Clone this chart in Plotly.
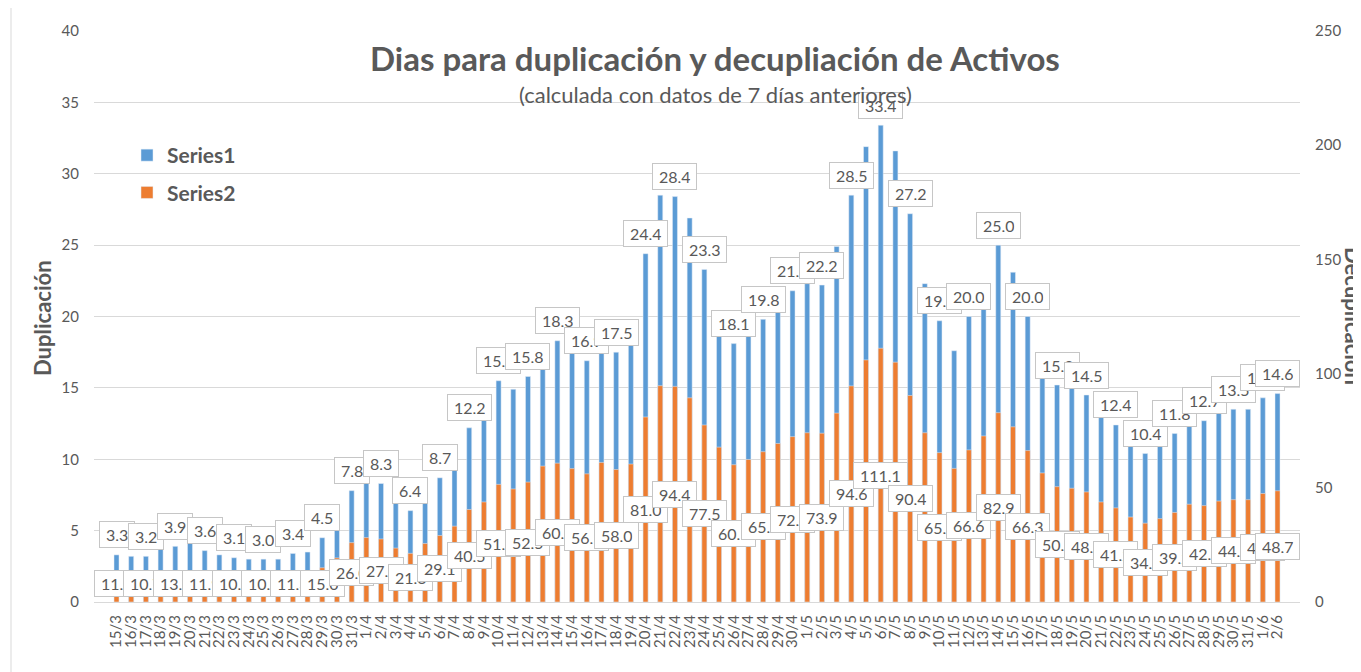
import plotly.graph_objects as go

dates = ["15/3","16/3","17/3","18/3","19/3","20/3","21/3","22/3","23/3","24/3",
         "25/3","26/3","27/3","28/3","29/3","30/3","31/3",
         "1/4","2/4","3/4","4/4","5/4","6/4","7/4","8/4","9/4","10/4",
         "11/4","12/4","13/4","14/4","15/4","16/4","17/4","18/4","19/4","20/4",
         "21/4","22/4","23/4","24/4","25/4","26/4","27/4","28/4","29/4","30/4",
         "1/5","2/5","3/5","4/5","5/5","6/5","7/5","8/5","9/5","10/5",
         "11/5","12/5","13/5","14/5","15/5","16/5","17/5","18/5","19/5","20/5",
         "21/5","22/5","23/5","24/5","25/5","26/5","27/5","28/5","29/5","30/5","31/5",
         "1/6","2/6"]

duplicacion = [3.3,3.2,3.2,3.9,3.9,4.1,3.6,3.3,3.1,3.0,
               3.0,3.0,3.4,3.5,4.5,5.8,7.8,
               8.5,8.3,7.1,6.4,7.7,8.7,10.0,12.2,13.2,15.5,
               14.9,15.8,17.9,18.3,17.6,16.9,18.4,17.5,18.2,24.4,
               28.5,28.4,26.9,23.3,20.4,18.1,18.8,19.8,20.9,21.8,
               22.3,22.2,24.9,28.5,31.9,33.4,31.6,27.2,22.3,19.7,
               17.6,20.0,21.9,25.0,23.1,20.0,17.0,15.2,15.0,14.5,
               13.2,12.4,11.2,10.4,11.0,11.8,12.9,12.7,13.3,13.5,13.5,
               14.3,14.6]

decuplicacion = [11.0,10.6,10.7,12.9,13.0,13.6,11.9,11.0,10.3,10.0,
                 10.0,10.0,11.3,11.6,15.0,19.3,26.0,
                 28.2,27.6,23.6,21.3,25.6,29.1,33.2,40.5,43.8,51.5,
                 49.5,52.5,59.5,60.8,58.4,56.1,61.1,58.0,60.4,81.0,
                 94.7,94.4,89.4,77.5,67.8,60.1,62.4,65.8,69.4,72.4,
                 74.1,73.9,82.7,94.6,106.0,111.1,105.0,90.4,74.1,65.4,
                 58.5,66.6,72.7,82.9,76.7,66.3,56.5,50.5,49.8,48.2,
                 43.8,41.2,37.2,34.5,36.5,39.2,42.8,42.2,44.2,44.8,44.8,
                 47.5,48.7]

labeled = list(range(0, len(dates), 2)) + [len(dates) - 1]

BLUE = "#5B9BD5"
ORANGE = "#ED7D31"
GREY = "#595959"
FONT = "Lato"

fig = go.Figure()
fig.add_trace(go.Bar(x=dates, y=duplicacion, name="Series1", marker_color=BLUE,
                     width=0.34, yaxis="y", legendgroup="a"))
fig.add_trace(go.Bar(x=dates, y=decuplicacion, name="Series2", marker_color=ORANGE,
                     width=0.34, yaxis="y2", legendgroup="b"))

def fmt(v):
    return f"{v:.1f}".replace(".", ",")

LABEL_FONT = dict(family=FONT, size=16, color=GREY)
ann = []
for i in labeled:
    ann.append(dict(x=dates[i], y=duplicacion[i], xref="x", yref="y", text=fmt(duplicacion[i]),
                    showarrow=False, yshift=20, yanchor="middle", xanchor="center",
                    bgcolor="white", bordercolor="#c6c6c6", borderwidth=1, borderpad=6,
                    height=13, font=LABEL_FONT))
for i in labeled:
    # centred in the bar, but kept clear of the axis like the original
    ann.append(dict(x=dates[i], y=max(decuplicacion[i] / 2, 7.9), xref="x", yref="y2",
                    text=fmt(decuplicacion[i]),
                    showarrow=False, yanchor="middle", xanchor="center",
                    bgcolor="white", bordercolor="#c6c6c6", borderwidth=1, borderpad=6,
                    height=13, font=LABEL_FONT))

# page body adds an 8px offset; screen plot area: x 94..1300, y 31..602
OFF = 8
W, H = 1361, 672
L, T = 94 - OFF, 31 - OFF
R = W - (1300 - OFF)
B = H - (602 - OFF)
pw, ph = W - L - R, H - T - B

def px(xs):
    return (xs - 94) / pw

def py(ys):
    return (602 - ys) / ph

ann.append(dict(x=px(715), y=py(58), xref="paper", yref="paper",
                text="<b>Dias para duplicación y decupliación de Activos</b>",
                showarrow=False, xanchor="center", yanchor="middle",
                font=dict(family=FONT, size=33, color=GREY)))
ann.append(dict(x=px(715), y=py(94), xref="paper", yref="paper",
                text="(calculada con datos de 7 días anteriores)",
                showarrow=False, xanchor="center", yanchor="middle",
                font=dict(family=FONT, size=22, color=GREY)))
ann.append(dict(x=px(42), y=py(318), xref="paper", yref="paper",
                text="<b>Duplicación</b>", textangle=-90,
                showarrow=False, xanchor="center", yanchor="middle",
                font=dict(family=FONT, size=22, color=GREY)))
ann.append(dict(x=px(1354), y=py(316), xref="paper", yref="paper",
                text="<b>Decuplicación</b>", textangle=90,
                showarrow=False, xanchor="center", yanchor="middle",
                font=dict(family=FONT, size=22, color=GREY)))

fig.update_layout(
    width=W, height=H,
    margin=dict(l=L, r=R, t=T, b=B, autoexpand=False),
    paper_bgcolor="white", plot_bgcolor="white",
    barmode="overlay",
    font=dict(family=FONT, color=GREY),
    showlegend=True,
    legend=dict(x=px(127), y=py(135), xanchor="left", yanchor="top",
                font=dict(family=FONT, size=21, color=GREY, weight="bold"),
                tracegroupgap=7, bgcolor="rgba(0,0,0,0)"),
    xaxis=dict(type="category", tickangle=-90, showgrid=False, showline=True,
               linecolor="#d9d9d9", linewidth=1, ticks="",
               tickmode="array", tickvals=dates, ticktext=dates,
               tickfont=dict(family=FONT, size=15, color=GREY),
               ticklabelstandoff=6),
    yaxis=dict(range=[0, 40], dtick=5, showgrid=True, gridcolor="#d9d9d9",
               zeroline=False, showline=False, ticks="",
               tickfont=dict(family=FONT, size=15, color=GREY),
               ticklabelstandoff=14),
    yaxis2=dict(range=[0, 250], dtick=50, overlaying="y", side="right",
                showgrid=False, zeroline=False, showline=False, ticks="",
                tickfont=dict(family=FONT, size=15, color=GREY),
                ticklabelstandoff=14),
    annotations=ann,
    shapes=[dict(type="line", xref="paper", yref="paper", x0=px(11), x1=px(11),
                 y0=py(0), y1=py(H), line=dict(color="#d9d9d9", width=1))],
)

fig.write_html("out.html")
